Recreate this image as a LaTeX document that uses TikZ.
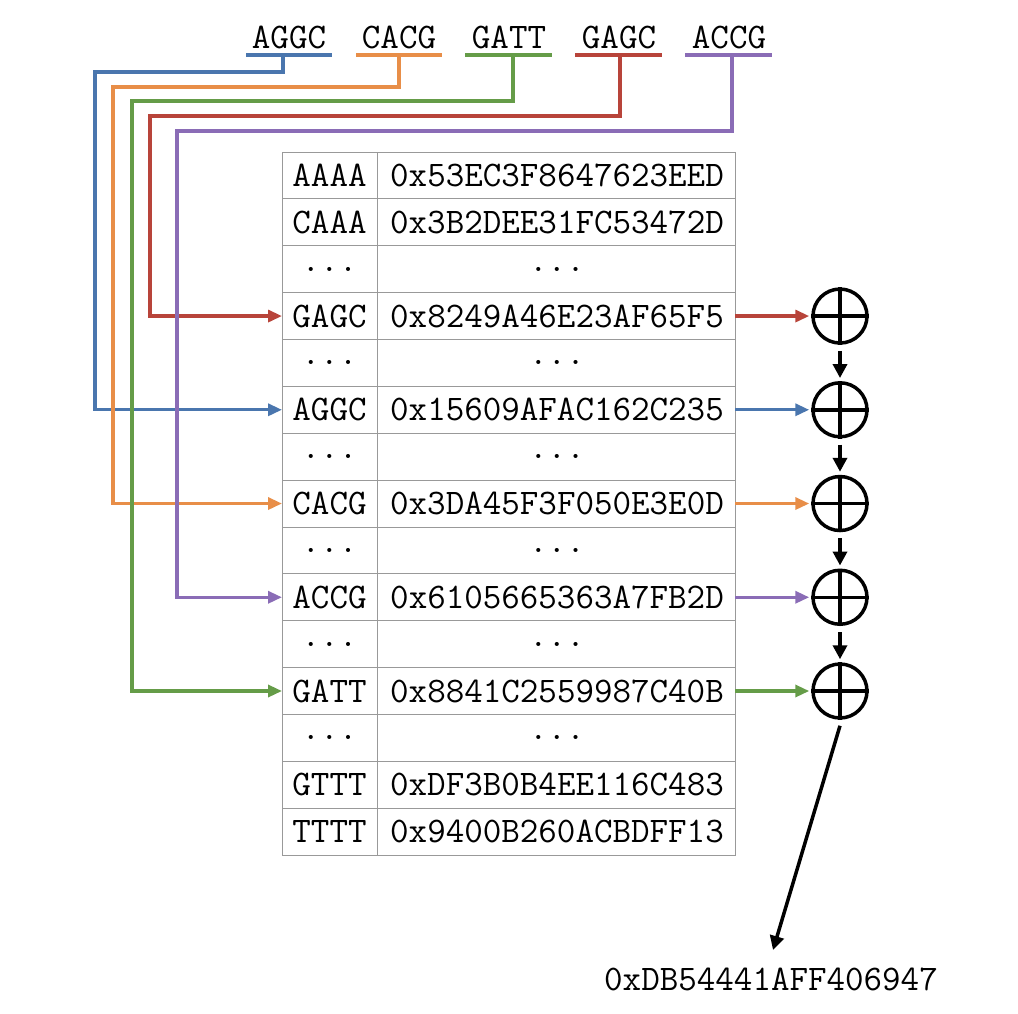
\documentclass[tikz,border=0pt]{standalone}
\usetikzlibrary{arrows.meta}
\definecolor{cblue}{HTML}{4A76AE}
\definecolor{corange}{HTML}{E88E48}
\definecolor{cgreen}{HTML}{659C48}
\definecolor{cred}{HTML}{B8443A}
\definecolor{cpurple}{HTML}{8A6CB6}
\newcommand{\mydots}{...}
\begin{document}
\begin{tikzpicture}[x=1pt,y=-1pt,
  txt/.style={font=\fontsize{36}{40}\selectfont\ttfamily, inner sep=0pt, anchor=center},
  cell/.style={draw=gray!80, line width=0.9pt},
  wire/.style={line width=3.3pt, -{Triangle[length=14pt,width=12pt]}},
  uline/.style={line width=3.3pt},
  xorc/.style={circle, draw, line width=3.5pt, minimum size=54pt, inner sep=0pt},
  blk/.style={line width=3.5pt, -{Triangle[length=14pt,width=14pt]}}]
\useasboundingbox (0,0) rectangle (1018,1014);
% table
\def\rh{46.87}
\foreach \k/\h [count=\i from 0] in {AAAA/0x53EC3F8647623EED, CAAA/0x3B2DEE31FC53472D, \mydots/\mydots, GAGC/0x8249A46E23AF65F5, \mydots/\mydots, AGGC/0x15609AFAC162C235, \mydots/\mydots, CACG/0x3DA45F3F050E3E0D, \mydots/\mydots, ACCG/0x6105665363A7FB2D, \mydots/\mydots, GATT/0x8841C2559987C40B, \mydots/\mydots, GTTT/0xDF3B0B4EE116C483, TTTT/0x9400B260ACBDFF13}{
  \draw[cell] (282,152+\i*\rh) rectangle (377,152+\i*\rh+\rh);
  \draw[cell] (377,152+\i*\rh) rectangle (735,152+\i*\rh+\rh);
  \node[txt] (k\i) at (329.5,152+\i*\rh+0.5*\rh) {\k};
  \node[txt] (h\i) at (557,152+\i*\rh+0.5*\rh) {\h};
  \coordinate (kl\i) at (282,152+\i*\rh+0.5*\rh);
  \coordinate (hr\i) at (735,152+\i*\rh+0.5*\rh);
}
% top labels
\node[txt] (tA) at (289,37) {AGGC};
\node[txt] (tC) at (399,37) {CACG};
\node[txt] (tG) at (509,37) {GATT};
\node[txt] (tR) at (619,37) {GAGC};
\node[txt] (tP) at (729,37) {ACCG};
\draw[uline,cblue] (246,55) -- (332,55);
\draw[uline,corange] (356,55) -- (442,55);
\draw[uline,cgreen] (465,55) -- (552,55);
\draw[uline,cred] (575,55) -- (662,55);
\draw[uline,cpurple] (685,55) -- (772,55);
% wires
\draw[wire,cblue] (283,55) -- (283,72) -- (95,72) -- (95,0|-kl5) -- (kl5);
\draw[wire,corange] (399,55) -- (399,87) -- (113,87) -- (113,0|-kl7) -- (kl7);
\draw[wire,cgreen] (513,55) -- (513,101) -- (132,101) -- (132,0|-kl11) -- (kl11);
\draw[wire,cred] (620,55) -- (620,116) -- (150,116) -- (150,0|-kl3) -- (kl3);
\draw[wire,cpurple] (732,55) -- (732,131) -- (177,131) -- (177,0|-kl9) -- (kl9);
% xor circles
\foreach \n/\r in {x1/3, x2/5, x3/7, x4/9, x5/11}{
  \node[xorc] (\n) at (840,0|-hr\r) {};
  \draw[line width=3.5pt] (\n.north) -- (\n.south) (\n.west) -- (\n.east);
}
\draw[wire,cred] (hr3) -- ([xshift=-2pt]x1.west);
\draw[wire,cblue] (hr5) -- ([xshift=-2pt]x2.west);
\draw[wire,corange] (hr7) -- ([xshift=-2pt]x3.west);
\draw[wire,cpurple] (hr9) -- ([xshift=-2pt]x4.west);
\draw[wire,cgreen] (hr11) -- ([xshift=-2pt]x5.west);
\draw[blk] ([yshift=-6pt]x1.south) -- ([yshift=3pt]x2.north);
\draw[blk] ([yshift=-6pt]x2.south) -- ([yshift=3pt]x3.north);
\draw[blk] ([yshift=-6pt]x3.south) -- ([yshift=3pt]x4.north);
\draw[blk] ([yshift=-6pt]x4.south) -- ([yshift=3pt]x5.north);
\node[txt] (res) at (771,979) {0xDB54441AFF406947};
\coordinate (rtip) at (773,950);
\draw[blk] ([yshift=-6pt]x5.south) -- (rtip);
\end{tikzpicture}
\end{document}
